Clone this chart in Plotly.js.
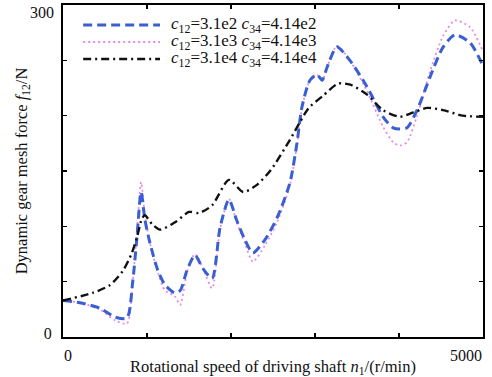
<!DOCTYPE html>
<html>
<head>
<meta charset="utf-8">
<script src="https://cdn.plot.ly/plotly-3.0.1.min.js"></script>
<style>html,body{margin:0;padding:0;background:#fff;}#chart{width:492px;height:377px;}</style>
</head>
<body>
<div id="chart"></div>
<script>
// Rotational speed (r/min) sample points for the two low-damping series
const speed = [0,200,440,620,760,830,880,930,975,1035,1130,1215,1330,1395,1475,1570,1665,1775,1870,1975,2070,2165,2260,2405,2550,2700,2785,2845,2940,3025,3085,3145,3260,3415,3620,3810,3930,4010,4095,4215,4370,4525,4665,4845,5000];
// c12=3.1e2 c34=4.14e2
const force1 = [33,31,26,18,17,50,90,131,106,85,60,47,40,42,60,74,62,53,99,124,105,88,76,88,108,139,175,208,232,237,232,244,262,250,226,199,189,188,189,205,235,262,273,266,245];
// c12=3.1e3 c34=4.14e3
const force2 = [33,31,25,15,12,50,95,140,110,85,58,42,37,29,58,75,62,44,97,125,103,85,68,83,104,137,173,207,232,237,232,244,263,250,222,190,176,173,176,200,240,272,286,280,258];
// c12=3.1e4 c34=4.14e4
const speed3 = [0,360,560,715,820,880,940,975,1060,1155,1340,1500,1620,1775,1975,2145,2300,2475,2700,2820,2925,3095,3275,3420,3620,3810,4010,4170,4335,4525,4760,5000];
const force3 = [33,40,47,60,76,90,107,110,102,97,104,113,112,119,142,131,137,151,178,194,207,218,229,228,219,205,199,203,207,205,200,199];

const seriesNames = [
  '<i>c</i><sub>12</sub>=3.1e2 <i>c</i><sub>34</sub>=4.14e2',
  '<i>c</i><sub>12</sub>=3.1e3 <i>c</i><sub>34</sub>=4.14e3',
  '<i>c</i><sub>12</sub>=3.1e4 <i>c</i><sub>34</sub>=4.14e4'
];
const xTickVals = [0,1000,2000,3000,4000,5000];
const xTickText = ['0','','','','',''];
const xEndTick = 5000;
const xEndText = '5000';
const yTickVals = [0,50,100,150,200,250,300];
const yTickText = ['0','','','','','',''];
const yEndTick = 300;
const yEndText = '300';
const xRange = [0,5000];
const yRange = [0,300];

const styles = [
  {color:'#3a5fd0', width:3, dash:'9px,5px'},
  {color:'#e68ae6', width:1.8, dash:'2px,3px'},
  {color:'#111111', width:2.4, dash:'8px,4px,2px,4px'}
];

const FONT = 'Liberation Serif, Times New Roman, serif';
const TXT = '#111';

const traces = [
  {x: speed, y: force2, name: seriesNames[1], line: styles[1]},
  {x: speed, y: force1, name: seriesNames[0], line: styles[0]},
  {x: speed3, y: force3, name: seriesNames[2], line: styles[2]}
].map(t => Object.assign({type:'scatter', mode:'lines'}, t,
  {line: Object.assign({shape:'spline', smoothing:0.7}, t.line)}));

const tickFont = {family:FONT, size:16, color:TXT};

// legend drawn in paper coordinates
const legY = [0.9398, 0.8886, 0.8373];
const shapes = [];
const annotations = [];
for (let i = 0; i < 3; i++) {
  shapes.push({type:'line', xref:'paper', yref:'paper', x0:0.048, x1:0.231, y0:legY[i], y1:legY[i],
    line:{color:styles[i].color, width:styles[i].width, dash:styles[i].dash}});
  annotations.push({xref:'paper', yref:'paper', x:0.252, y:legY[i], xanchor:'left', yanchor:'middle',
    showarrow:false, text:seriesNames[i], font:{family:FONT, size:17, color:TXT}});
}
// end-of-axis tick labels (placed through the axes' own scales)
annotations.push({xref:'x', yref:'paper', x:xEndTick, y:0, xanchor:'right', yanchor:'middle',
  yshift:-18, xshift:1, showarrow:false, text:xEndText, font:tickFont});
annotations.push({xref:'paper', yref:'y', x:0, y:yEndTick, xanchor:'right', yanchor:'middle',
  xshift:-7, yshift:-7, showarrow:false, text:yEndText, font:tickFont});

const layout = {
  width: 492, height: 377,
  margin: {l:63, r:9, t:5, b:40},
  paper_bgcolor:'#fff', plot_bgcolor:'#fff',
  showlegend: false,
  font: {family: FONT, size: 16, color:TXT},
  xaxis: {
    range:xRange, tickvals:xTickVals, ticktext:xTickText,
    ticks:'inside', ticklen:4, tickwidth:1.5, tickcolor:'#000',
    showline:true, linecolor:'#000', linewidth:2, mirror:'ticks',
    showgrid:false, zeroline:false, automargin:false,
    tickfont:tickFont, ticklabeloverflow:'allow', ticklabelshift:5, ticklabelstandoff:3,
    title:{text:'Rotational speed of driving shaft <i>n</i><sub>1</sub>/(r/min)', font:{family:FONT, size:16.5, color:TXT}, standoff:2}
  },
  yaxis: {
    range:yRange, tickvals:yTickVals, ticktext:yTickText,
    ticks:'inside', ticklen:4, tickwidth:1.5, tickcolor:'#000',
    showline:true, linecolor:'#000', linewidth:2, mirror:'ticks',
    showgrid:false, zeroline:false, automargin:false,
    tickfont:tickFont, ticklabeloverflow:'allow', ticklabelshift:-4, ticklabelstandoff:6,
    title:{text:'Dynamic gear mesh force <i>f</i><sub>12</sub>/N', font:{family:FONT, size:16.5, color:TXT}, standoff:12}
  },
  shapes: shapes,
  annotations: annotations
};

Plotly.newPlot('chart', traces, layout, {displayModeBar:false, staticPlot:true});
</script>
</body>
</html>
